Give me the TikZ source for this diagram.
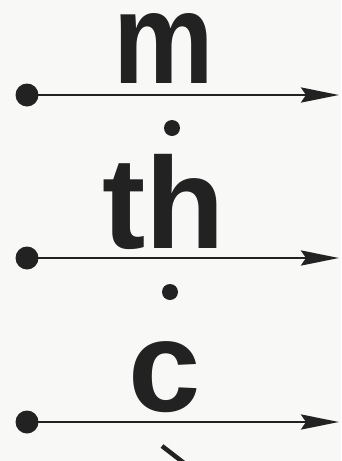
\documentclass[tikz,border=0pt]{standalone}
\usepackage{fontspec}
\usepackage{graphicx}
\setmainfont{Liberation Sans}
\usetikzlibrary{arrows.meta}
\definecolor{ink}{HTML}{222222}
\definecolor{paper}{HTML}{F8F8F6}
\tikzset{
  bigdot/.style={circle,fill=ink,inner sep=0pt,minimum size=23pt},
  smalldot/.style={circle,fill=ink,inner sep=0pt,minimum size=16pt},
  arr/.style={draw=ink,line width=2.8pt,-{Stealth[length=38pt,width=15pt,inset=5pt]}},
  lbl/.style={text=ink,font=\bfseries\fontsize{130}{130}\selectfont,inner sep=0pt,anchor=base,text depth=0pt},
}
\begin{document}
\begin{tikzpicture}[x=1pt,y=-1pt]
\fill[paper] (0,0) rectangle (341,461);
\useasboundingbox (0,0) rectangle (341,461);
% labels
\node[lbl,text height=70pt] (m) at (164,83) {\scalebox{0.87}[1]{m}};
\node[lbl,text height=92pt] (th) at (164,248) {th};
\node[lbl,text height=72pt] (c) at (165,411) {c};
% dots between
\node[smalldot] (s1) at (172,128) {};
\node[smalldot] (s2) at (170,292) {};
% arrows
\node[bigdot] (d1) at (27,95) {};
\node[bigdot] (d2) at (27,258) {};
\node[bigdot] (d3) at (27,422) {};
\coordinate (e1) at (339,95);
\coordinate (e2) at (339,258);
\coordinate (e3) at (339,422);
\draw[arr] (d1.center) -- (e1);
\draw[arr] (d2.center) -- (e2);
\draw[arr] (d3.center) -- (e3);
% cut-off mark at bottom
\coordinate (f1) at (162,446);
\coordinate (f2) at (184,463);
\draw[ink,line width=4.5pt] (f1) -- (f2);
\end{tikzpicture}
\end{document}
